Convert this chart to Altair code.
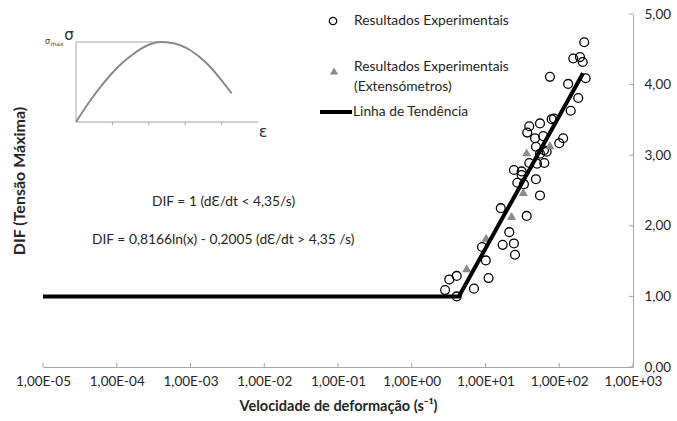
import altair as alt
import pandas as pd

# ---------------- data ----------------
circ_x = [2.83, 3.23, 4.07, 4.07, 6.98, 11.0, 10.1, 8.97, 16.1, 17.1, 21.0, 24.3,
          25.1, 36.2, 27.0, 33.2, 54.8, 48.3, 24.3, 30.9, 30.9, 39.2, 49.9, 62.7,
          54.8, 67.5, 62.1, 48.3, 100, 113, 46.9, 60.7, 36.8, 39.2, 54.8, 78.9,
          84.8, 143, 181, 132, 74.8, 228, 155, 191, 208, 218]
circ_y = [1.09, 1.24, 1.29, 1.00, 1.11, 1.26, 1.51, 1.70, 2.25, 1.73, 1.91, 1.75,
          1.59, 2.14, 2.61, 2.59, 2.43, 2.66, 2.79, 2.77, 2.72, 2.89, 2.88, 2.89,
          3.02, 3.05, 3.07, 3.12, 3.17, 3.24, 3.24, 3.27, 3.32, 3.41, 3.45, 3.51,
          3.52, 3.63, 3.81, 4.01, 4.11, 4.09, 4.37, 4.39, 4.32, 4.60]
tri_x = [5.56, 10.2, 22.6, 32.5, 36.2, 74.8]
tri_y = [1.40, 1.83, 2.14, 2.48, 3.04, 3.14]
trend_x = [1e-5, 4.35, 210]
trend_y = [1.0, 1.0, 4.16]
x_ticks = [1e-5, 1e-4, 1e-3, 1e-2, 1e-1, 1e0, 1e1, 1e2, 1e3]
y_ticks = [0, 1, 2, 3, 4, 5]

# inset (schematic stress-strain curve)
ins_eps = [0, 0.068, 0.150, 0.232, 0.315, 0.397, 0.462, 0.535, 0.626, 0.718, 0.791, 0.855]
ins_sig = [0, 0.234, 0.484, 0.691, 0.850, 0.962, 1.0, 0.984, 0.900, 0.734, 0.546, 0.359]
ins_eps_ticks = [0.2, 0.4, 0.6, 0.8]
ins_peak_eps = 0.462

# ---------------- styling ----------------
FONT = "Lato"
GRAY = "#a6a6a6"
TXT = "#262626"
W, H = 590, 353
TS = 13.8   # annotation / legend text size
LS = 13.5   # tick label size

circ_df = pd.DataFrame({"x": circ_x, "y": circ_y})
tri_df = pd.DataFrame({"x": tri_x, "y": tri_y})
trend_df = pd.DataFrame({"x": trend_x, "y": trend_y})
xt_df = pd.DataFrame({"x": x_ticks})
yt_df = pd.DataFrame({"y": y_ticks})
ins_df = pd.DataFrame({"e": ins_eps, "s": ins_sig})
ins_t_df = pd.DataFrame({"e": ins_eps_ticks})

xs = alt.Scale(type="log", domain=[1e-5, 1e3], nice=False)
ys = alt.Scale(domain=[0, 5], nice=False)

x_axis = alt.Axis(
    values=x_ticks,
    labelExpr="'1,00E' + (round(log(datum.value)/LN10) < 0 ? '-' : '+') + '0' + abs(round(log(datum.value)/LN10))",
    ticks=False, grid=False, domainColor=GRAY, labelPadding=7, labelFlush=False,
    labelFont=FONT, labelFontSize=LS, labelColor=TXT, labelOverlap=False,
    title="Velocidade de deformação (s⁻¹)", titleFont=FONT, titleFontSize=14.5,
    titleFontWeight="bold", titleColor=TXT, titlePadding=12,
)
y_axis = alt.Axis(
    orient="right", values=y_ticks,
    labelExpr="replace(format(datum.value, '.2f'), '.', ',')",
    ticks=False, grid=False, domainColor=GRAY, labelPadding=11, labelFlush=False,
    labelFont=FONT, labelFontSize=LS, labelColor=TXT, title=None,
)

circles = alt.Chart(circ_df).mark_point(
    shape="circle", filled=False, color="black", strokeWidth=1.3, size=78, opacity=1
).encode(x=alt.X("x:Q", scale=xs, axis=x_axis), y=alt.Y("y:Q", scale=ys, axis=y_axis))

tris = alt.Chart(tri_df).mark_point(
    shape="triangle-up", filled=True, color="#8c8c8c", size=85, opacity=1
).encode(x=alt.X("x:Q", scale=xs, axis=None), y=alt.Y("y:Q", scale=ys, axis=None))

trend = alt.Chart(trend_df).mark_line(color="black", strokeWidth=4).encode(
    x=alt.X("x:Q", scale=xs, axis=None), y=alt.Y("y:Q", scale=ys, axis=None))

xt = alt.Chart(xt_df).mark_rule(color=GRAY).encode(
    x=alt.X("x:Q", scale=xs, axis=None), y=alt.value(H), y2=alt.value(H - 4))
yt = alt.Chart(yt_df).mark_rule(color=GRAY).encode(
    y=alt.Y("y:Q", scale=ys, axis=None), x=alt.value(W), x2=alt.value(W - 4))


def txt(s, x, y, size=TS, align="left", weight="normal", angle=0, color=TXT, font=FONT):
    return alt.Chart(alt.Data(values=[{}])).mark_text(
        text=s, align=align, baseline="middle", font=font, fontSize=size,
        fontWeight=weight, color=color, angle=angle,
    ).encode(x=alt.value(x), y=alt.value(y))


ytitle = txt("DIF (Tensão Máxima)", -23, 167, size=16, align="center", weight="bold", angle=270)
ann1 = txt("DIF = 1 (dƐ/dt < 4,35/s)", 109, 188)
ann2 = txt("DIF = 0,8166ln(x) - 0,2005 (dƐ/dt > 4,35 /s)", 49, 226)

# legend (drawn manually)
leg_c = alt.Chart(alt.Data(values=[{}])).mark_point(
    shape="circle", filled=False, color="black", strokeWidth=1.3, size=55, opacity=1
).encode(x=alt.value(290), y=alt.value(7))
leg_t = alt.Chart(alt.Data(values=[{}])).mark_point(
    shape="triangle-up", filled=True, color="#8c8c8c", size=70, opacity=1
).encode(x=alt.value(291), y=alt.value(57))
leg_l = alt.Chart(alt.Data(values=[{}])).mark_rule(color="black", strokeWidth=4).encode(
    x=alt.value(277), x2=alt.value(309), y=alt.value(98))
leg1 = txt("Resultados Experimentais", 311, 7)
leg2 = txt("Resultados Experimentais", 311, 53)
leg3 = txt("(Extensómetros)", 311, 73)
leg4 = txt("Linha de Tendência", 310, 98)

# ---------------- inset ----------------
ixs = alt.Scale(domain=[0, 1], range=[33, 215], nice=False, zero=False)
iys = alt.Scale(domain=[0, 1], range=[108, 28], nice=False, zero=False)
ICOL = "#8a8a8a"

curve = alt.Chart(ins_df).mark_line(color=ICOL, strokeWidth=2, interpolate="monotone").encode(
    x=alt.X("e:Q", scale=ixs, axis=None), y=alt.Y("s:Q", scale=iys, axis=None))
v_ax = alt.Chart(alt.Data(values=[{}])).mark_rule(color=GRAY, strokeWidth=1).encode(
    x=alt.XDatum(0, scale=ixs, axis=None), y=alt.YDatum(0, scale=iys, axis=None),
    y2=alt.Y2Datum(1.0))
h_ax = alt.Chart(alt.Data(values=[{}])).mark_rule(color=GRAY, strokeWidth=1).encode(
    x=alt.XDatum(0, scale=ixs, axis=None), x2=alt.X2Datum(1.0),
    y=alt.YDatum(0, scale=iys, axis=None))
smax = alt.Chart(alt.Data(values=[{}])).mark_rule(color=GRAY, strokeWidth=1).encode(
    x=alt.XDatum(0, scale=ixs, axis=None), x2=alt.X2Datum(ins_peak_eps),
    y=alt.YDatum(1.0, scale=iys, axis=None))
i_ticks = alt.Chart(ins_t_df).mark_rule(color=GRAY).encode(
    x=alt.X("e:Q", scale=ixs, axis=None), y=alt.value(108), y2=alt.value(111))

sig_big = txt("σ", 26, 21, size=15, align="center", color="#333333", font="DejaVu Sans")
sig_small = txt("σ", 4.5, 28, size=8, align="center", color="#333333", font="DejaVu Sans")
sig_max = txt("max", 7.5, 30, size=6, align="left", color="#333333", font="DejaVu Sans")
eps_lbl = txt("ε", 220, 118, size=16, align="center", color="#333333", font="DejaVu Sans")

chart = alt.layer(
    v_ax, h_ax, smax, i_ticks, curve, sig_big, sig_small, sig_max, eps_lbl,
    circles, tris, trend, xt, yt, ytitle, ann1, ann2,
    leg_c, leg_t, leg_l, leg1, leg2, leg3, leg4,
).resolve_scale(
    x="independent", y="independent"
).properties(
    width=W, height=H,
    padding={"left": 43, "top": 14, "right": 44, "bottom": 54},
    autosize=alt.AutoSizeParams(type="none"),
    background="white",
).configure_view(stroke=None)

chart.save("out.html", embed_options={"renderer": "svg", "actions": False})
